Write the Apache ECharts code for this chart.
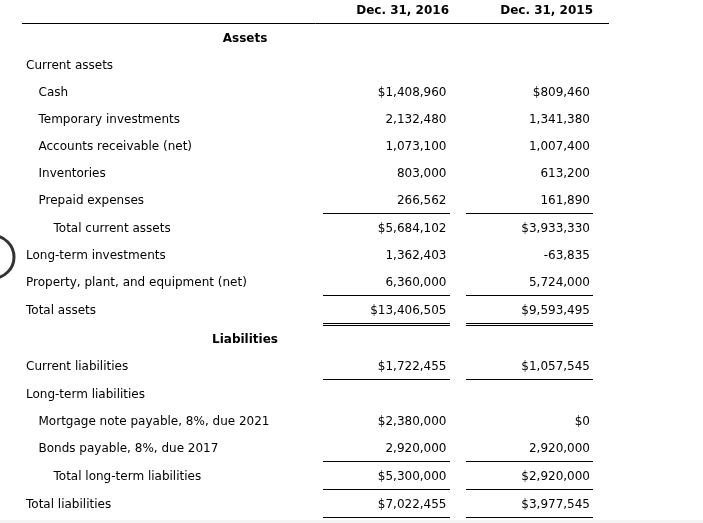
<!DOCTYPE html>
<html><head><meta charset="utf-8">
<script src="https://cdn.jsdelivr.net/npm/echarts@6/dist/echarts.min.js"></script>
<style>html,body{margin:0;padding:0;background:#fff}#c{width:703px;height:523px}</style>
</head><body><div id="c"></div>
<script>
// ---- data ----
const columnHeaders = ['Dec. 31, 2016', 'Dec. 31, 2015'];
const rowLabels = [
  'Assets',
  'Current assets',
  'Cash',
  'Temporary investments',
  'Accounts receivable (net)',
  'Inventories',
  'Prepaid expenses',
  'Total current assets',
  'Long-term investments',
  'Property, plant, and equipment (net)',
  'Total assets',
  'Liabilities',
  'Current liabilities',
  'Long-term liabilities',
  'Mortgage note payable, 8%, due 2021',
  'Bonds payable, 8%, due 2017',
  'Total long-term liabilities',
  'Total liabilities'
];
const values2016 = [null, null, 1408960, 2132480, 1073100, 803000, 266562, 5684102, 1362403, 6360000, 13406505, null, 1722455, null, 2380000, 2920000, 5300000, 7022455];
const values2015 = [null, null, 809460, 1341380, 1007400, 613200, 161890, 3933330, -63835, 5724000, 9593495, null, 1057545, null, 0, 2920000, 2920000, 3977545];

// ---- presentation (styles / layout) ----
const rowLevel = [-1, 0, 1, 1, 1, 1, 1, 2, 0, 0, 0, -1, 0, 0, 1, 1, 2, 0]; // -1 = section title
const dollarRow = [0, 0, 1, 0, 0, 0, 0, 1, 0, 0, 1, 0, 1, 0, 1, 0, 1, 1];
const ruleBelow = [0, 0, 0, 0, 0, 0, 1, 0, 0, 1, 2, 0, 1, 0, 0, 1, 1, 1]; // 1 single, 2 double
const L = {
  labelX: [26, 38.5, 53.5], sectionX: 245,
  colRight: [446.5, 590], headRight: [449, 593],
  ruleX: [[323, 450], [466, 593]], headRule: [22, 609],
  font: 'DejaVu Sans, Verdana, sans-serif', size: 12, ink: '#000'
};

// row positions in row units, header row = -1; each rule above adds a pixel-sized gap
const rowPos = [];
let extra = 1 / 27; // header rule
for (let i = 0; i < rowLabels.length; i++) {
  rowPos.push(i + extra);
  extra += ruleBelow[i] / 27;
}
const yMax = rowPos[rowPos.length - 1];

function fmt(v, dollar) {
  if (v == null) return '';
  const s = v.toLocaleString('en-US');
  return (dollar ? '$' : '') + s;
}

const chart = echarts.init(document.getElementById('c'), null, { renderer: 'canvas' });

function txt(x, y, s, align, bold) {
  return { type: 'text', style: { x: x, y: y, text: s, fill: L.ink, font: (bold ? 'bold ' : '') + L.size + 'px ' + L.font, textAlign: align, textVerticalAlign: 'middle' } };
}
function hline(x1, x2, y) {
  return { type: 'line', shape: { x1: x1, y1: y, x2: x2, y2: y }, style: { stroke: '#000', lineWidth: 1 } };
}

const seriesData = [{ value: [0, -1] }].concat(rowLabels.map((r, i) => ({ value: [0, rowPos[i]], idx: i })));

chart.setOption({
  animation: false,
  grid: { left: 0, right: 0, top: 10.5, bottom: 18.5 },
  xAxis: { type: 'value', min: 0, max: 703, show: false },
  yAxis: { type: 'value', inverse: true, min: -1, max: yMax, show: false },
  graphic: [
    { type: 'circle', shape: { cx: -7.3, cy: 257, r: 21.3 }, style: { fill: 'none', stroke: '#333', lineWidth: 3 } },
    { type: 'rect', shape: { x: 0, y: 520, width: 703, height: 3 }, style: { fill: '#f4f4f4' } }
  ],
  series: [{
    type: 'custom',
    coordinateSystem: 'cartesian2d',
    data: seriesData.map((d, k) => d.value.concat([k - 1])),
    renderItem: function (params, api) {
      const k = api.value(2);
      const y = api.coord([0, api.value(1)])[1];
      const ch = [];
      if (k < 0) {
        ch.push(txt(L.headRight[0], y, columnHeaders[0], 'right', true));
        ch.push(txt(L.headRight[1], y, columnHeaders[1], 'right', true));
        const ry = Math.round(y + 12.5) + 0.5;
        ch.push(hline(L.headRule[0], L.headRule[1], ry));
        return { type: 'group', children: ch };
      }
      const lvl = rowLevel[k];
      if (lvl < 0) {
        ch.push(txt(L.sectionX, y, rowLabels[k], 'center', true));
      } else {
        ch.push(txt(L.labelX[lvl], y, rowLabels[k], 'left', false));
      }
      ch.push(txt(L.colRight[0], y, fmt(values2016[k], dollarRow[k]), 'right', false));
      ch.push(txt(L.colRight[1], y, fmt(values2015[k], dollarRow[k]), 'right', false));
      if (ruleBelow[k]) {
        const ry = Math.round(y + 12.5) + 0.5;
        for (let c = 0; c < 2; c++) {
          ch.push(hline(L.ruleX[c][0], L.ruleX[c][1], ry));
          if (ruleBelow[k] === 2) ch.push(hline(L.ruleX[c][0], L.ruleX[c][1], ry + 2));
        }
      }
      return { type: 'group', children: ch };
    }
  }]
});
</script>
</body></html>
